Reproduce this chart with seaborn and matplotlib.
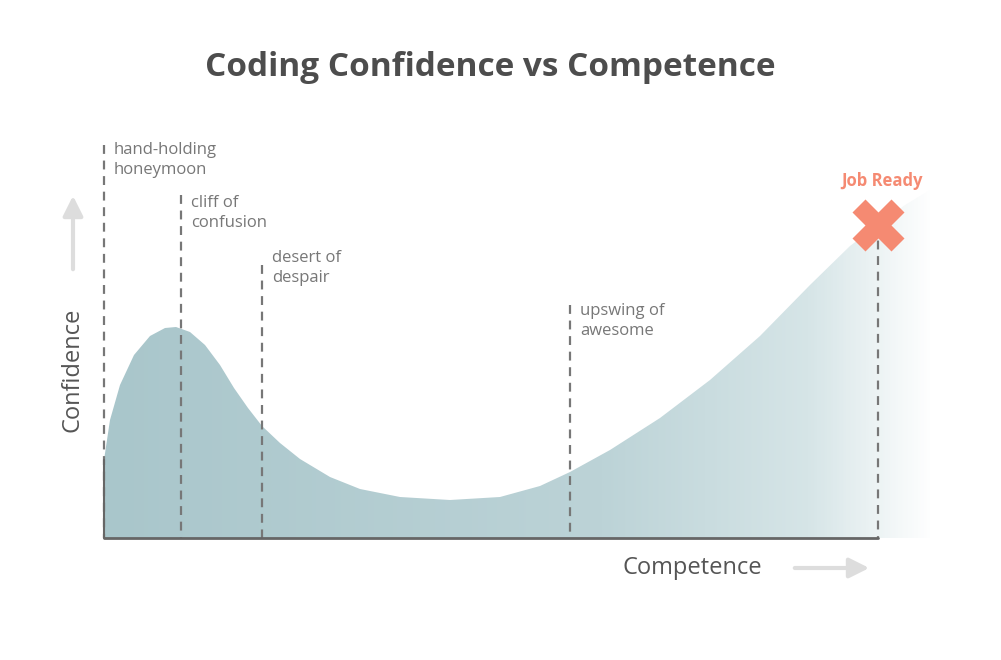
import numpy as np
import matplotlib
matplotlib.use("Agg")
import matplotlib.pyplot as plt
import seaborn as sns
from matplotlib.colors import LinearSegmentedColormap

sns.set_theme(style="white")
plt.rcParams['font.family'] = ['Open Sans', 'DejaVu Sans']

# curve (pixel-like units: x competence, y screen position)
curve_x = [104, 110, 120, 134, 150, 165, 176, 190, 205, 220, 234, 248, 262, 280, 300, 330, 360, 400, 450, 500, 540, 570, 610, 660, 710, 760, 810, 850, 878, 905, 930]
curve_y = [460, 420, 385, 355, 336, 328, 327, 332, 345, 365, 388, 408, 426, 443, 459, 477, 489, 497, 500, 497, 486, 472, 450, 418, 380, 336, 285, 246, 225, 205, 190]

stage_x = [104, 181, 262, 570, 878]
stage_top = [145, 195, 265, 305, 225]
stage_labels = ["hand-holding\nhoneymoon", "cliff of\nconfusion", "desert of\ndespair", "upswing of\nawesome", ""]
label_y = [142, 195, 250, 303]

fig = plt.figure(figsize=(10.01, 6.6), dpi=100)
ax = fig.add_axes([0, 0, 1, 1])
ax.set_xlim(0, 1001)
ax.set_ylim(660, 0)
ax.axis("off")

base = 538
poly = ax.fill_between(curve_x, curve_y, base, color="none", lw=0)
cmap = LinearSegmentedColormap.from_list("g", [(0, "#a9c6cb"), (0.6, "#bcd3d7"), (0.85, "#d6e5e7"), (1, "#ffffff")])
grad = np.linspace(0, 1, 400).reshape(1, -1)
im = ax.imshow(grad, cmap=cmap, extent=[104, 935, base, 180], aspect="auto", zorder=1)
im.set_clip_path(poly.get_paths()[0], transform=ax.transData)

for x, t in zip(stage_x, stage_top):
    ax.plot([x, x], [t, base], ls=(0, (4, 3)), color="#777777", lw=1.6, zorder=3)
for x, y, s in zip(stage_x, label_y, stage_labels):
    ax.text(x + 10, y, s, fontsize=12, color="#777777", va="top", ha="left", linespacing=1.3)

ax.plot([104, 878], [base, base], color="#666666", lw=2, zorder=4)
ax.plot([104, 104], [460, base], color="#666666", lw=1.5, zorder=4)

ax.plot([878], [225], marker="X", ms=38, color="#f58a72", mec="none", zorder=5)
ax.text(882, 181, "Job Ready", color="#f58a72", fontsize=12, fontweight="bold", ha="center", va="center")

ax.text(490, 68, "Coding Confidence vs Competence", fontsize=24, fontweight="bold", color="#4d4d4d", ha="center", va="center")
ax.text(72, 370, "Confidence", fontsize=17, color="#555555", rotation=90, ha="center", va="center")
ax.text(692, 568, "Competence", fontsize=17, color="#555555", ha="center", va="center")

ax.annotate("", xy=(73, 193), xytext=(73, 272), arrowprops=dict(arrowstyle="-|>,head_width=0.5,head_length=1", color="#dddddd", lw=3))
ax.annotate("", xy=(872, 568), xytext=(792, 568), arrowprops=dict(arrowstyle="-|>,head_width=0.5,head_length=1", color="#dddddd", lw=3))

fig.savefig("out.png", dpi=100, facecolor="white")
